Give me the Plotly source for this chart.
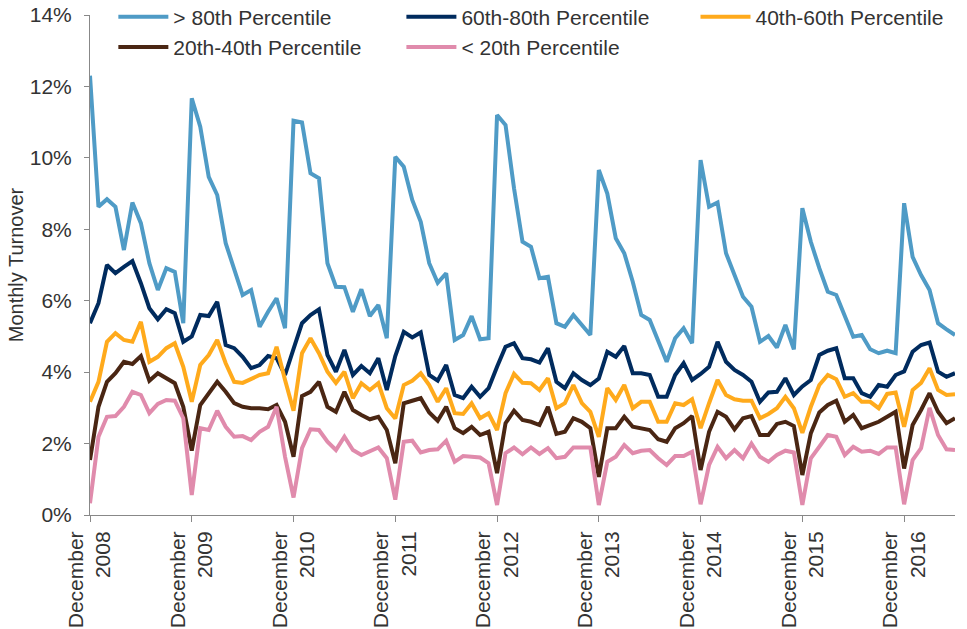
import pandas as pd
import plotly.graph_objects as go

# Monthly categories: December 2008 .. June 2017
months = list(pd.period_range("2008-12", "2017-06", freq="M").strftime("%b %Y"))
tick_months = [m for m in months if m.startswith("Dec")]
tick_labels = ["December<br>" + m.split()[1] for m in tick_months]

p80_plus = [12.3, 8.63, 8.84, 8.63, 7.42, 8.75, 8.17, 7.05, 6.30, 6.91, 6.81, 5.37,
            11.67, 10.87, 9.47, 8.96, 7.61, 6.86, 6.16, 6.30, 5.27, 5.69, 6.07, 5.23,
            11.04, 10.99, 9.57, 9.43, 7.05, 6.39, 6.38, 5.69, 6.32, 5.57, 5.88, 4.95,
            10.03, 9.75, 8.82, 8.21, 7.05, 6.5, 6.77, 4.9, 5.04, 5.57, 4.92, 4.95,
            11.2, 10.92, 9.15, 7.65, 7.51, 6.63, 6.67, 5.37, 5.27, 5.6, 5.32, 5.04,
            9.66, 9.0, 7.75, 7.33, 6.53, 5.6, 5.46, 4.9, 4.29, 4.95, 5.23, 4.81,
            9.94, 8.63, 8.75, 7.33, 6.72, 6.11, 5.83, 4.85, 5.01, 4.69, 5.32, 4.64,
            8.59, 7.65, 6.91, 6.25, 6.16, 5.57, 4.99, 5.04, 4.64, 4.53, 4.6, 4.53,
            8.73, 7.23, 6.72, 6.3, 5.37, 5.2, 5.04]

p60_80 = [5.37, 5.93, 7.0, 6.77, 6.95, 7.11, 6.49, 5.79, 5.48, 5.76, 5.65, 4.85,
          5.0, 5.6, 5.57, 5.97, 4.76, 4.67, 4.43, 4.11, 4.2, 4.45, 4.39, 3.92,
          4.65, 5.37, 5.6, 5.76, 4.48, 4.01, 4.62, 3.92, 4.17, 3.97, 4.39, 3.5,
          4.45, 5.13, 4.97, 5.11, 3.92, 3.76, 4.2, 3.36, 3.27, 3.59, 3.31, 3.55,
          4.15, 4.71, 4.81, 4.39, 4.36, 4.27, 4.67, 3.73, 3.55, 3.97, 3.78, 3.64,
          3.82, 4.57, 4.43, 4.73, 3.97, 3.97, 3.92, 3.31, 3.31, 3.92, 4.25, 3.78,
          3.95, 4.15, 4.85, 4.29, 4.06, 3.92, 3.73, 3.17, 3.43, 3.45, 3.83, 3.36,
          3.6, 3.78, 4.48, 4.6, 4.67, 3.83, 3.83, 3.41, 3.31, 3.64, 3.59, 3.92,
          4.02, 4.57, 4.76, 4.83, 4.01, 3.87, 3.97]

p40_60 = [3.17, 3.73, 4.85, 5.09, 4.90, 4.85, 5.41, 4.29, 4.43, 4.67, 4.81, 4.15,
          3.17, 4.2, 4.48, 4.9, 4.25, 3.73, 3.7, 3.8, 3.92, 3.97, 4.71, 3.78,
          2.92, 4.53, 4.95, 4.53, 4.01, 3.7, 4.01, 3.27, 3.69, 3.5, 3.69, 2.99,
          2.7, 3.64, 3.76, 3.97, 3.64, 3.17, 3.55, 2.85, 2.83, 3.13, 2.71, 2.85,
          2.38, 3.41, 3.95, 3.7, 3.69, 3.5, 3.83, 2.99, 3.13, 3.64, 3.13, 2.89,
          2.19, 3.55, 3.22, 3.64, 2.99, 3.17, 3.17, 2.61, 2.61, 3.13, 3.08, 3.24,
          2.43, 3.13, 3.78, 3.36, 3.24, 3.2, 3.2, 2.71, 2.83, 2.99, 3.31, 2.99,
          2.3, 3.03, 3.64, 3.92, 3.8, 3.31, 3.41, 3.17, 3.17, 2.99, 3.39, 3.43,
          2.47, 3.5, 3.7, 4.11, 3.5, 3.36, 3.38]

p20_40 = [1.54, 3.03, 3.73, 3.97, 4.29, 4.23, 4.45, 3.76, 3.97, 3.83, 3.69, 3.03,
          1.8, 3.08, 3.41, 3.73, 3.45, 3.13, 3.03, 2.99, 2.99, 2.96, 3.08, 2.61,
          1.63, 3.33, 3.45, 3.73, 3.03, 2.89, 3.45, 2.94, 2.8, 2.68, 2.75, 2.38,
          1.45, 3.13, 3.2, 3.27, 2.87, 2.64, 3.03, 2.43, 2.29, 2.47, 2.24, 2.33,
          1.17, 2.57, 2.92, 2.66, 2.61, 2.52, 3.03, 2.27, 2.33, 2.71, 2.61, 2.43,
          1.07, 2.43, 2.43, 2.75, 2.47, 2.43, 2.38, 2.12, 2.05, 2.43, 2.57, 2.77,
          1.26, 2.33, 2.89, 2.75, 2.4, 2.71, 2.77, 2.24, 2.24, 2.55, 2.61, 2.49,
          1.12, 2.29, 2.87, 3.08, 3.2, 2.61, 2.8, 2.43, 2.52, 2.61, 2.75, 2.89,
          1.3, 2.52, 2.94, 3.41, 2.89, 2.57, 2.71]

p20_minus = [0.33, 2.19, 2.75, 2.77, 3.03, 3.45, 3.36, 2.85, 3.11, 3.22, 3.2, 2.71,
             0.56, 2.43, 2.38, 2.92, 2.47, 2.19, 2.21, 2.1, 2.33, 2.47, 3.03, 1.63,
             0.49, 1.87, 2.4, 2.38, 2.05, 1.82, 2.19, 1.82, 1.68, 1.8, 1.89, 1.59,
             0.43, 2.05, 2.08, 1.75, 1.82, 1.84, 2.08, 1.49, 1.65, 1.63, 1.61, 1.45,
             0.28, 1.73, 1.89, 1.7, 1.89, 1.71, 1.87, 1.59, 1.63, 1.89, 1.89, 1.89,
             0.28, 1.49, 1.63, 1.96, 1.73, 1.8, 1.82, 1.59, 1.4, 1.65, 1.65, 1.77,
             0.3, 1.4, 1.91, 1.59, 1.82, 1.59, 2.0, 1.63, 1.49, 1.68, 1.8, 1.75,
             0.28, 1.59, 1.91, 2.24, 2.19, 1.68, 1.91, 1.77, 1.8, 1.71, 1.89, 1.89,
             0.3, 1.54, 1.87, 3.0, 2.24, 1.84, 1.82]

series_names = ["> 80th Percentile", "60th-80th Percentile", "40th-60th Percentile",
                "20th-40th Percentile", "< 20th Percentile"]
series_values = [p80_plus, p60_80, p40_60, p20_40, p20_minus]
series_colors = ["#4F9BC6", "#002B5E", "#FFAA1C", "#4A2613", "#E08BAC"]
series_legend = ["legend", "legend2", "legend3", "legend", "legend2"]

FONT = "Liberation Sans, Arial, sans-serif"
TXT = "#333333"
AX = "#888888"
FS = 21

fig = go.Figure()
for name, vals, col, lg in zip(series_names, series_values, series_colors, series_legend):
    fig.add_trace(go.Scatter(x=months, y=vals, name=name, mode="lines",
                             line=dict(color=col, width=4), legend=lg))

legend_common = dict(orientation="v", xanchor="left", yanchor="top", y=1.037,
                     bgcolor="rgba(0,0,0,0)", borderwidth=0, itemwidth=50,
                     font=dict(family=FONT, size=FS, color=TXT), tracegroupgap=0)

fig.update_layout(
    width=967, height=629,
    margin=dict(l=90, r=12, t=15, b=114, autoexpand=False),
    paper_bgcolor="white", plot_bgcolor="white",
    font=dict(family=FONT, color=TXT),
    legend=dict(x=0.027, **legend_common),
    legend2=dict(x=0.360, **legend_common),
    legend3=dict(x=0.700, **legend_common),
    xaxis=dict(type="category", range=[0, len(months) - 1],
               tickmode="array", tickvals=tick_months, ticktext=tick_labels,
               tickangle=-90, tickfont=dict(family=FONT, size=FS, color=TXT),
               showline=True, linecolor=AX, linewidth=1,
               ticks="outside", ticklen=6, tickcolor=AX, automargin=False,
               ticklabelstandoff=1, ticklabeloverflow="allow",
               showgrid=False, zeroline=False),
    yaxis=dict(range=[0, 14], dtick=2, ticksuffix="%",
               tickfont=dict(family=FONT, size=FS, color=TXT),
               showline=True, linecolor=AX, linewidth=1,
               ticks="outside", ticklen=5, tickcolor=AX, ticklabelstandoff=8,
               ticklabeloverflow="allow",
               showgrid=False, zeroline=False, automargin=False,
               title=dict(text="Monthly Turnover", standoff=0,
                          font=dict(family=FONT, size=20, color=TXT))),
)

# remove the default 8px page margin so the figure fills the window exactly
fig.write_html("out.html", config={"displayModeBar": False},
               post_script="document.body.style.margin='0';")
